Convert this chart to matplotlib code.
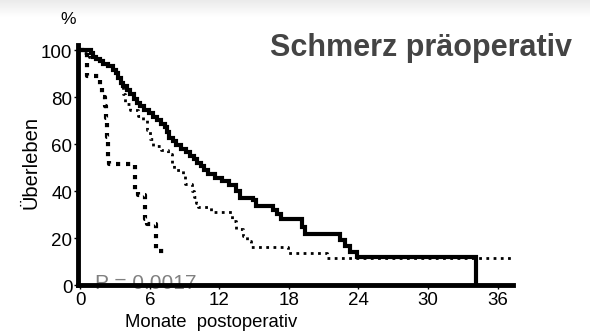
import numpy as np
import matplotlib
matplotlib.use("Agg")
import matplotlib.pyplot as plt
import matplotlib.transforms as mtransforms

plt.rcParams['font.family'] = ['Liberation Sans', 'DejaVu Sans']

# ---------------- data ----------------

# solid curve
solid_t = [0, 0.9, 1.1, 1.4, 1.7, 2.0, 2.4, 2.8, 3.1, 3.3, 3.5, 3.7, 4.0, 4.3, 4.6,
           4.9, 5.2, 5.5, 5.9, 6.3, 6.6, 7.0, 7.3, 7.5, 7.7, 8.0, 8.3, 8.7, 9.1,
           9.5, 9.8, 10.1, 10.4, 10.7, 11.0, 11.6, 12.2, 12.8, 13.4, 13.8, 14.9,
           15.2, 16.6, 17.0, 17.3, 19.1, 19.4, 22.4, 22.8, 23.3, 23.9, 34.1]
solid_p = [100, 98.5, 97, 96, 95, 94, 93, 91.5, 90, 88, 86, 84.5, 83, 81, 79,
           77.5, 76, 74.5, 73, 71.5, 70, 68.5, 67, 65, 62.5, 61, 59.5, 58, 56.5,
           55, 53.5, 52, 50.5, 49, 47, 45.5, 44, 42.5, 40, 37, 36,
           33.5, 32, 30, 28, 24.5, 21.5, 19, 16.5, 14, 12, 0]

# fine dotted curve
dot_t = [0, 0.3, 0.8, 1.3, 1.8, 2.3, 2.8, 3.2, 3.5, 3.7, 3.9, 4.3, 5.0, 5.4, 5.8,
         6.0, 6.3, 7.0, 7.6, 7.9, 8.1, 8.9, 9.05, 9.6, 9.8, 10.0, 10.2, 11.3,
         13.1, 13.4, 14.0, 14.4, 14.7, 17.9, 21.3, 37.7]
dot_p = [100, 98.5, 97, 95.5, 94, 93, 90.5, 88, 85, 81, 77, 74.5, 72, 70, 66,
         62, 59, 57.5, 55.5, 52, 49, 47, 43, 40, 37.5, 35, 33, 31,
         27, 24, 21, 18.5, 16, 13.6, 11.3, 11.3]

# coarse square-dotted curve
sq_t = [0, 0.55, 1.7, 1.9, 2.1, 2.2, 2.3, 2.4, 2.5, 4.7, 5.0, 5.6, 5.8, 6.5, 7.5]
sq_p = [100, 89, 84, 80, 76, 71, 63, 54.5, 51.5, 40, 38.3, 28, 26, 14.5, 14.5]

x_ticks = [0, 6, 12, 18, 24, 30, 36]
y_ticks = [0, 20, 40, 60, 80, 100]

title = "Schmerz präoperativ"
p_text = "P = 0.0017"

# ---------------- plot ----------------

fig = plt.figure(figsize=(5.9, 3.31), dpi=100)

# faint grey band along the top edge
bg = fig.add_axes([0, 0, 1, 1], zorder=-10)
grad = np.ones((331, 1))
grad[:18, 0] = np.linspace(0.92, 1.0, 18)
bg.imshow(grad, cmap="gray", vmin=0, vmax=1, aspect="auto", extent=[0, 1, 0, 1])
bg.axis("off")

ax = fig.add_axes([0.132, 0.139, 0.737, 0.725])
ax.patch.set_alpha(0)

ax.step(sq_t, sq_p, where="post", color="black", lw=3.0,
        linestyle=(0, (1, 1.4)), dash_capstyle="butt", zorder=3)
ax.step(dot_t, dot_p, where="post", color="black", lw=2.0,
        linestyle=(0, (1, 1.6)), dash_capstyle="butt", zorder=3)
ax.step(solid_t, solid_p, where="post", color="black", lw=3.0,
        solid_joinstyle="miter", zorder=2)

ax.set_xlim(-0.2, 37.3)
ax.set_ylim(0, 102)
ax.set_xticks(x_ticks)
ax.set_yticks(y_ticks)
ax.tick_params(axis="both", labelsize=13.5, length=3, width=1, pad=1, colors="black")
ax.tick_params(axis="x", pad=2)

# y labels sit a little lower than the ticks
shift = mtransforms.ScaledTranslation(0, -2 / 100, fig.dpi_scale_trans)
for lbl in ax.get_yticklabels():
    lbl.set_transform(lbl.get_transform() + shift)

for s in ["top", "right"]:
    ax.spines[s].set_visible(False)
ax.spines["left"].set_linewidth(3.5)
ax.spines["bottom"].set_linewidth(3.5)
ax.spines["left"].set_zorder(4)
ax.spines["bottom"].set_zorder(4)

ax.text(1.3, -1.5, p_text, fontsize=15, color="#808080", zorder=1)

fig.text(0.115, 0.94, "%", fontsize=12.5, ha="center", va="center")
fig.text(0.052, 0.51, "Überleben", fontsize=14.5, rotation=90, ha="center", va="center")
fig.text(0.358, 0.027, "Monate  postoperativ", fontsize=13.3, ha="center", va="center")
fig.text(0.969, 0.855, title, fontsize=22, fontweight="bold", color="#444444",
         ha="right", va="center")

fig.savefig("out.png", dpi=100)
